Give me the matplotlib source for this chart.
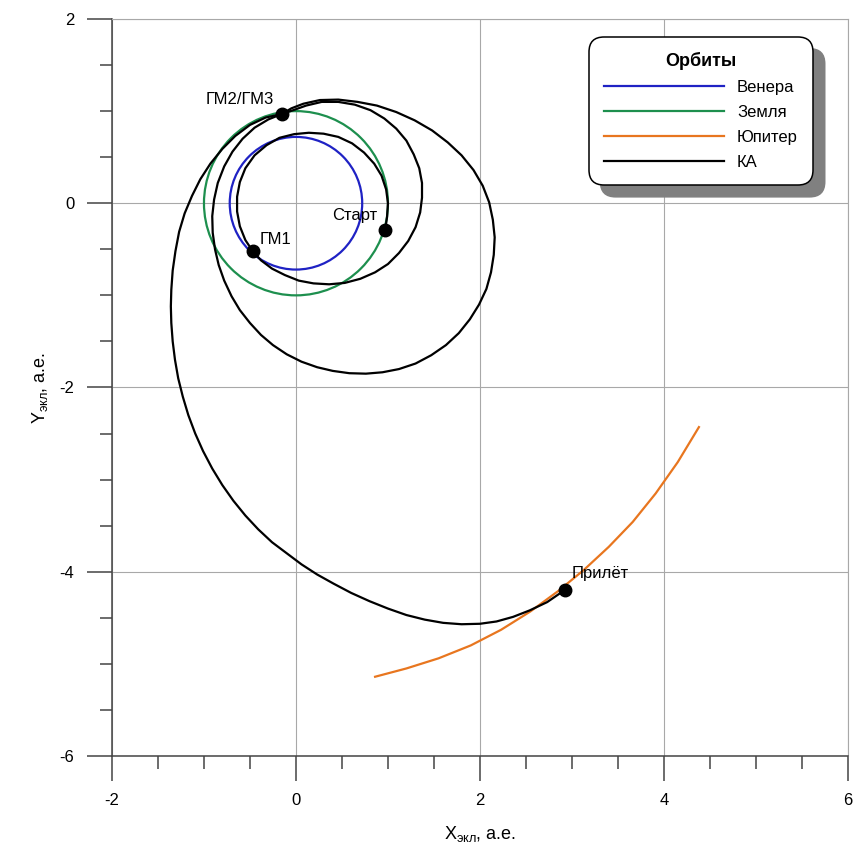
import matplotlib
matplotlib.use("Agg")
import matplotlib.pyplot as plt
from matplotlib.patches import Circle
from matplotlib.ticker import MultipleLocator
from matplotlib.lines import Line2D

plt.rcParams['font.family'] = ['Liberation Sans', 'DejaVu Sans']
plt.rcParams['axes.unicode_minus'] = False

# радиусы орбит планет, а.е.
venus_r = 0.72
earth_r = 1.0

# дуга орбиты Юпитера
jup_x = [0.86, 1.20, 1.55, 1.90, 2.23, 2.55, 2.85, 3.13, 3.40, 3.66, 3.91, 4.15, 4.38]
jup_y = [-5.14, -5.05, -4.94, -4.80, -4.63, -4.43, -4.21, -3.98, -3.73, -3.46, -3.15, -2.81, -2.43]

# траектория КА по участкам
# старт -> ГМ1
seg1_x = [0.97, 0.99, 1.00, 0.98, 0.93, 0.85, 0.74, 0.61, 0.46, 0.30, 0.14, -0.02, -0.18, -0.32, -0.45, -0.55, -0.61, -0.64, -0.64, -0.61, -0.55, -0.47]
seg1_y = [-0.29, -0.15, 0.00, 0.15, 0.30, 0.43, 0.55, 0.65, 0.72, 0.755, 0.765, 0.75, 0.71, 0.63, 0.52, 0.38, 0.23, 0.07, -0.09, -0.25, -0.40, -0.52]
# ГМ1 -> ГМ2
seg2_x = [-0.47, -0.38, -0.26, -0.12, 0.03, 0.19, 0.36, 0.53, 0.70, 0.86, 1.00, 1.12, 1.22, 1.30, 1.35, 1.37, 1.37, 1.34, 1.28,
          1.20, 1.09, 0.96, 0.81, 0.64, 0.46, 0.28, 0.11, -0.03, -0.15]
seg2_y = [-0.52, -0.62, -0.71, -0.78, -0.84, -0.87, -0.88, -0.865, -0.82, -0.75, -0.66, -0.54, -0.41, -0.26, -0.10, 0.06, 0.22, 0.38, 0.53,
          0.68, 0.81, 0.92, 1.01, 1.07, 1.10, 1.10, 1.06, 1.01, 0.97]
# ГМ2 -> ГМ3
seg3_x = [-0.15, -0.30, -0.45, -0.58, -0.69, -0.78, -0.85, -0.89, -0.91, -0.905, -0.88, -0.84, -0.78, -0.70, -0.61, -0.50, -0.38,
          -0.25, -0.10, 0.06, 0.23, 0.40, 0.58, 0.76, 0.94, 1.12, 1.30, 1.47, 1.63, 1.77, 1.89, 1.99, 2.07, 2.12, 2.15, 2.16,
          2.14, 2.10, 2.03, 1.93, 1.80, 1.65, 1.48, 1.29, 1.09, 0.88, 0.67, 0.46, 0.26, 0.08, -0.05, -0.15]
seg3_y = [0.97, 0.91, 0.82, 0.70, 0.56, 0.40, 0.22, 0.04, -0.14, -0.32, -0.50, -0.67, -0.84, -1.01, -1.16, -1.30, -1.43,
          -1.54, -1.64, -1.72, -1.78, -1.82, -1.845, -1.85, -1.835, -1.80, -1.74, -1.65, -1.54, -1.41, -1.26, -1.10, -0.93, -0.75, -0.56, -0.37,
          -0.18, 0.01, 0.19, 0.36, 0.52, 0.66, 0.79, 0.90, 0.99, 1.06, 1.10, 1.125, 1.12, 1.08, 1.03, 0.97]
# ГМ3 -> Юпитер
seg4_x = [-0.15, -0.33, -0.50, -0.66, -0.80, -0.93, -1.04, -1.13, -1.21, -1.27, -1.31, -1.34, -1.355, -1.36, -1.355, -1.34, -1.315,
          -1.28, -1.23, -1.17, -1.095, -1.01, -0.91, -0.80, -0.68, -0.55, -0.41, -0.26, -0.10, 0.06, 0.23, 0.41, 0.60, 0.80,
          1.00, 1.20, 1.40, 1.60, 1.80, 2.00, 2.18, 2.36, 2.54, 2.73, 2.92]
seg4_y = [0.97, 0.93, 0.85, 0.73, 0.59, 0.43, 0.26, 0.08, -0.11, -0.31, -0.52, -0.73, -0.94, -1.12, -1.30, -1.50, -1.70,
          -1.90, -2.10, -2.30, -2.50, -2.69, -2.88, -3.06, -3.23, -3.39, -3.54, -3.68, -3.80, -3.92, -4.03, -4.13, -4.23, -4.32,
          -4.40, -4.47, -4.52, -4.555, -4.57, -4.565, -4.54, -4.49, -4.42, -4.33, -4.20]

# ключевые точки
pt_names = ['Старт', 'ГМ1', 'ГМ2/ГМ3', 'Прилёт']
pt_x = [0.97, -0.47, -0.15, 2.92]
pt_y = [-0.29, -0.52, 0.97, -4.20]

c_venus = '#1f22c4'
c_earth = '#1d8f4e'
c_jup = '#e8761f'
spine_c = '#444444'
grid_c = '#a8a8a8'

fig = plt.figure(figsize=(8.58, 8.44), dpi=100)
ax = fig.add_axes([0.1305, 0.1043, 0.8578, 0.8732])

ax.add_patch(Circle((0, 0), venus_r, fill=False, ec=c_venus, lw=1.6, zorder=3))
ax.add_patch(Circle((0, 0), earth_r, fill=False, ec=c_earth, lw=1.6, zorder=3))
ax.plot(jup_x, jup_y, color=c_jup, lw=1.6, zorder=3, solid_joinstyle='round')
for sx, sy in [(seg1_x, seg1_y), (seg2_x, seg2_y), (seg3_x, seg3_y), (seg4_x, seg4_y)]:
    ax.plot(sx, sy, color='black', lw=1.6, zorder=4, solid_joinstyle='round')
ax.plot(pt_x, pt_y, 'o', color='black', ms=9, zorder=5)

ax.text(-0.24, 1.13, pt_names[2], ha='right', va='center', fontsize=12)
ax.text(-0.39, -0.39, pt_names[1], ha='left', va='center', fontsize=12)
ax.text(0.39, -0.13, pt_names[0], ha='left', va='center', fontsize=12)
ax.text(3.00, -4.02, pt_names[3], ha='left', va='center', fontsize=12)

ax.set_xlim(-2, 6)
ax.set_ylim(-6, 2)
ax.xaxis.set_major_locator(MultipleLocator(2))
ax.yaxis.set_major_locator(MultipleLocator(2))
ax.xaxis.set_minor_locator(MultipleLocator(0.5))
ax.yaxis.set_minor_locator(MultipleLocator(0.5))
ax.grid(True, which='major', color=grid_c, lw=0.8)
ax.set_axisbelow(True)

ax.tick_params(which='major', direction='out', length=18, width=1.1, color=spine_c, labelsize=12, pad=9)
ax.tick_params(which='minor', direction='out', length=9, width=1.1, color=spine_c)
for s in ['left', 'bottom']:
    ax.spines[s].set_color(spine_c)
    ax.spines[s].set_linewidth(1.1)
for s in ['top', 'right']:
    ax.spines[s].set_color(grid_c)
    ax.spines[s].set_linewidth(0.8)

ax.set_xlabel('$\\mathregular{X_{экл}}$, а.е.', fontsize=13, labelpad=11)
ax.set_ylabel('$\\mathregular{Y_{экл}}$, а.е.', fontsize=13, labelpad=7)

handles = [Line2D([], [], color=c_venus, lw=1.6),
           Line2D([], [], color=c_earth, lw=1.6),
           Line2D([], [], color=c_jup, lw=1.6),
           Line2D([], [], color='black', lw=1.6)]
labels = ['Венера', 'Земля', 'Юпитер', 'КА']
leg = ax.legend(handles, labels, title='Орбиты', loc='upper right',
                bbox_to_anchor=(0.9524, 0.9756), borderaxespad=0, fontsize=12,
                title_fontproperties={'weight': 'bold', 'size': 13},
                handlelength=7.2, handletextpad=0.8, labelspacing=0.6,
                borderpad=0.9, framealpha=1, edgecolor='black', fancybox=True,
                shadow={'ox': 8.5, 'oy': -8.5, 'color': '#808080', 'alpha': 1})
leg.get_frame().set_linewidth(1.1)
leg.legendPatch.set_boxstyle('round', pad=0, rounding_size=0.9)

fig.savefig('out.png', dpi=100)
